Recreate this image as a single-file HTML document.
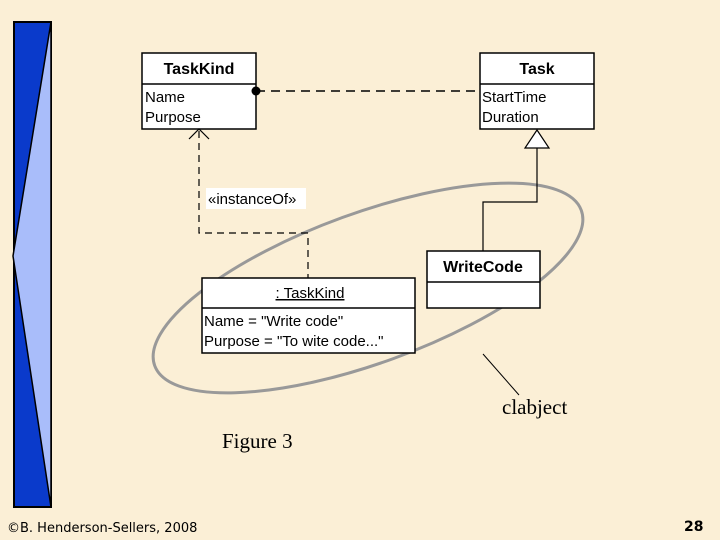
<!DOCTYPE html>
<html><head><meta charset="utf-8"><style>
body{margin:0;width:720px;height:540px;overflow:hidden;background:#fbefd6;}
svg{display:block}
</style></head><body>
<svg width="720" height="540" xmlns="http://www.w3.org/2000/svg" font-family="Liberation Sans, sans-serif">
<rect width="720" height="540" fill="#fbefd6"/>
<rect x="14" y="22" width="37" height="485" fill="#0a3acb" stroke="#000" stroke-width="2"/>
<polygon points="51,22 13,256 51,507" fill="#a9bdfa" stroke="#000" stroke-width="1.5"/>

<ellipse cx="368" cy="288" rx="227" ry="75" transform="rotate(-20 368 288)" fill="none" stroke="#999" stroke-width="3"/>

<!-- TaskKind -->
<rect x="142" y="53" width="114" height="76" fill="#fff" stroke="#000" stroke-width="1.5"/>
<line x1="142" y1="84" x2="256" y2="84" stroke="#000" stroke-width="1.5"/>
<text x="199" y="74" text-anchor="middle" font-weight="bold" font-size="16">TaskKind</text>
<text x="145" y="102" font-size="15">Name</text>
<text x="145" y="122" font-size="15">Purpose</text>
<!-- Task -->
<rect x="480" y="53" width="114" height="76" fill="#fff" stroke="#000" stroke-width="1.5"/>
<line x1="480" y1="84" x2="594" y2="84" stroke="#000" stroke-width="1.5"/>
<text x="537" y="74" text-anchor="middle" font-weight="bold" font-size="16">Task</text>
<text x="482" y="102" font-size="15">StartTime</text>
<text x="482" y="122" font-size="15">Duration</text>

<line x1="256" y1="91" x2="480" y2="91" stroke="#000" stroke-width="1.5" stroke-dasharray="9,6"/>
<circle cx="256" cy="91" r="4.5" fill="#000"/>

<!-- instanceOf -->
<polyline points="199,131 199,233 308,233 308,278" fill="none" stroke="#000" stroke-width="1.2" stroke-dasharray="7,5"/>
<polyline points="189,139 199,129 209,139" fill="none" stroke="#000" stroke-width="1.2"/>
<rect x="206" y="188" width="100" height="21" fill="#fff"/>
<text x="208" y="204" font-size="15">«instanceOf»</text>

<!-- generalization -->
<polyline points="537,148 537,202 483,202 483,251" fill="none" stroke="#000" stroke-width="1.2"/>
<polygon points="537,130 525,148 549,148" fill="#fff" stroke="#000" stroke-width="1.2"/>

<!-- WriteCode -->
<rect x="427" y="251" width="113" height="57" fill="#fff" stroke="#000" stroke-width="1.5"/>
<line x1="427" y1="282" x2="540" y2="282" stroke="#000" stroke-width="1.5"/>
<text x="483" y="272" text-anchor="middle" font-weight="bold" font-size="16">WriteCode</text>

<!-- :TaskKind -->
<rect x="202" y="278" width="213" height="75" fill="#fff" stroke="#000" stroke-width="1.5"/>
<line x1="202" y1="308" x2="415" y2="308" stroke="#000" stroke-width="1.5"/>
<text x="310" y="298" text-anchor="middle" font-size="15" text-decoration="underline">: TaskKind</text>
<text x="204" y="326" font-size="15">Name = "Write code"</text>
<text x="204" y="346" font-size="15">Purpose = "To wite code..."</text>

<line x1="483" y1="354" x2="519" y2="395" stroke="#000" stroke-width="1"/>
<text x="502" y="414" font-family="Liberation Serif, serif" font-size="21">clabject</text>
<text x="222" y="448" font-family="Liberation Serif, serif" font-size="21">Figure 3</text>

<text x="7" y="532" font-size="13" font-family="DejaVu Sans, sans-serif">©B. Henderson-Sellers, 2008</text>
<text x="684" y="531" font-size="14" font-family="DejaVu Sans, sans-serif" font-weight="bold">28</text>
</svg>
</body></html>
